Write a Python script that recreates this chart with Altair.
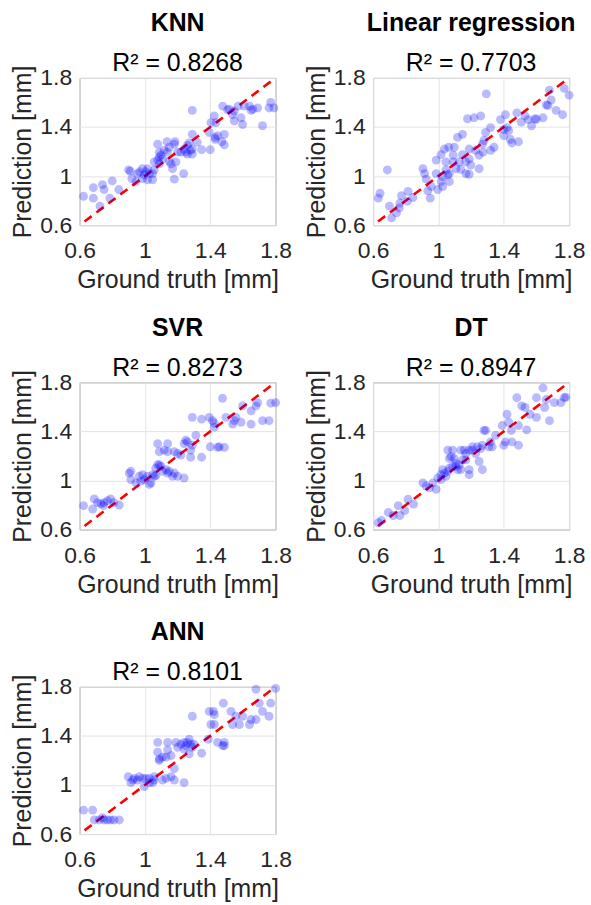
import altair as alt
import pandas as pd

FONT = "Liberation Sans"

models = ["KNN", "Linear regression", "SVR", "DT", "ANN"]
r2_values = [0.8268, 0.7703, 0.8273, 0.8947, 0.8101]
axis_ticks = [0.6, 1.0, 1.4, 1.8]
line_ends = [0.63, 1.8]

knn_gt = [0.624, 0.684, 0.684, 0.740, 0.750, 0.725, 0.785, 0.800, 0.840, 0.900,
          0.910, 0.945, 0.985, 1.005, 1.016, 1.047, 0.996, 1.027, 1.057, 1.078,
          1.088, 1.098, 1.108, 1.078, 1.088, 1.135, 1.184, 1.149, 1.169, 1.180,
          1.237, 1.190, 1.200, 1.240, 1.260, 1.278, 1.290, 1.250, 1.290, 1.290,
          1.347, 1.400, 1.320, 1.394, 1.404, 1.424, 1.435, 1.445, 1.430, 1.486,
          1.486, 1.476, 1.516, 1.537, 1.547, 1.588, 1.598, 1.640, 1.660, 1.690,
          1.720, 1.760, 1.770, 1.790, 1.608, 1.547, 1.057, 0.967, 1.016, 1.118,
          1.160, 1.220, 1.137, 1.047, 0.920, 0.985, 0.955, 1.270, 1.088, 1.149,
          1.180, 1.260, 1.290, 1.430, 1.570, 1.650, 1.506, 1.470]
knn_pred = [0.835, 0.905, 0.820, 0.930, 0.890, 0.755, 0.820, 0.960, 0.890, 1.050,
            1.040, 0.955, 1.060, 1.035, 0.970, 0.970, 1.010, 1.020, 1.050, 1.130,
            1.155, 1.170, 1.140, 1.260, 1.195, 1.280, 1.280, 1.120, 1.060, 0.975,
            1.020, 1.115, 1.195, 1.220, 1.250, 1.210, 1.220, 1.195, 1.340, 1.535,
            1.215, 1.215, 1.275, 1.355, 1.435, 1.490, 1.435, 1.330, 1.300, 1.340,
            1.255, 1.570, 1.545, 1.500, 1.450, 1.475, 1.420, 1.570, 1.545, 1.555,
            1.410, 1.555, 1.600, 1.555, 1.570, 1.530, 1.115, 1.035, 1.060, 1.210,
            1.100, 1.195, 1.195, 1.020, 0.980, 0.980, 1.020, 1.270, 1.100, 1.235,
            1.260, 1.180, 1.180, 1.315, 1.570, 1.535, 1.540, 1.280]

lr_gt = [0.642, 0.632, 0.687, 0.700, 0.713, 0.743, 0.760, 0.764, 0.774, 0.810,
         0.814, 0.844, 0.905, 0.915, 0.925, 0.935, 0.950, 0.956, 0.986, 0.996,
         1.016, 1.026, 1.046, 1.057, 1.067, 0.986, 1.016, 1.063, 1.097, 1.090,
         1.090, 1.117, 1.147, 1.107, 1.137, 1.168, 1.188, 1.188, 1.188, 1.178,
         1.218, 1.259, 1.228, 1.249, 1.269, 1.273, 1.279, 1.289, 1.319, 1.293,
         1.249, 1.340, 1.320, 1.380, 1.410, 1.400, 1.430, 1.400, 1.440, 1.450,
         1.490, 1.480, 1.507, 1.530, 1.550, 1.570, 1.590, 1.600, 1.640, 1.660,
         1.680, 1.690, 1.670, 1.720, 1.760, 1.770, 1.800, 1.026, 1.067, 1.046,
         1.127, 1.198, 1.147, 1.168, 1.420, 1.036]
lr_pred = [0.860, 0.820, 1.050, 0.755, 0.660, 0.700, 0.740, 0.780, 0.840, 0.795,
           0.875, 0.825, 1.060, 1.020, 0.975, 0.880, 0.820, 0.915, 1.020, 0.890,
           0.955, 0.995, 1.050, 1.010, 1.020, 1.130, 1.175, 1.235, 1.235, 1.170,
           1.115, 1.315, 1.340, 1.060, 1.055, 1.115, 1.140, 1.015, 1.220, 1.467,
           1.475, 1.490, 1.210, 1.170, 1.260, 1.195, 1.290, 1.355, 1.395, 1.670,
           1.060, 1.235, 1.210, 1.460, 1.500, 1.380, 1.370, 1.330, 1.300, 1.270,
           1.280, 1.515, 1.440, 1.490, 1.460, 1.410, 1.465, 1.465, 1.475, 1.580,
           1.700, 1.620, 1.575, 1.535, 1.500, 1.715, 1.660, 0.915, 0.955, 1.115,
           1.115, 1.090, 1.175, 1.020, 1.395, 1.220]

svr_gt = [0.624, 0.680, 0.690, 0.730, 0.750, 0.770, 0.790, 0.810, 0.843, 0.747,
          0.904, 0.914, 0.945, 0.965, 0.986, 0.996, 1.016, 1.027, 1.047, 1.067,
          1.078, 1.088, 1.108, 1.129, 1.149, 1.180, 1.169, 1.240, 1.078, 1.088,
          1.118, 1.139, 1.139, 1.180, 1.200, 1.220, 1.240, 1.250, 1.260, 1.280,
          1.290, 1.312, 1.290, 1.280, 1.347, 1.400, 1.445, 1.486, 1.455, 1.394,
          1.414, 1.425, 1.425, 1.475, 1.496, 1.537, 1.557, 1.588, 1.598, 1.650,
          1.650, 1.680, 1.690, 1.720, 1.760, 1.770, 1.800, 0.914, 0.975, 1.037,
          1.057, 1.139, 1.200, 1.347, 1.547, 0.710, 1.098, 1.067]
svr_pred = [0.795, 0.768, 0.850, 0.810, 0.820, 0.835, 0.850, 0.820, 0.800, 0.795,
            1.060, 1.075, 0.980, 1.035, 1.048, 1.008, 1.035, 0.968, 1.048, 1.040,
            1.128, 1.128, 1.075, 1.088, 1.075, 1.061, 1.035, 1.020, 1.300, 1.235,
            1.248, 1.300, 1.235, 1.235, 1.220, 1.208, 1.300, 1.328, 1.315, 1.248,
            1.288, 1.368, 1.515, 1.190, 1.190, 1.275, 1.270, 1.270, 1.275, 1.515,
            1.488, 1.467, 1.435, 1.670, 1.515, 1.460, 1.515, 1.475, 1.608, 1.460,
            1.568, 1.608, 1.635, 1.488, 1.488, 1.630, 1.635, 1.008, 0.995, 0.980,
            1.035, 1.061, 1.035, 1.500, 1.488, 0.820, 1.115, 1.100]

dt_gt = [0.632, 0.652, 0.693, 0.723, 0.754, 0.764, 0.794, 0.814, 0.848, 0.905,
         0.925, 0.945, 0.986, 0.996, 1.016, 1.036, 1.057, 1.067, 1.087, 1.107,
         1.127, 1.057, 1.087, 1.067, 1.097, 1.137, 1.158, 1.188, 1.208, 1.168,
         1.188, 1.188, 1.228, 1.238, 1.259, 1.269, 1.249, 1.269, 1.279, 1.289,
         1.309, 1.329, 1.350, 1.390, 1.400, 1.410, 1.420, 1.430, 1.450, 1.446,
         1.490, 1.490, 1.480, 1.510, 1.530, 1.540, 1.560, 1.600, 1.600, 1.640,
         1.660, 1.650, 1.680, 1.710, 1.750, 1.770, 1.780, 1.026, 1.117, 1.137,
         1.016, 1.046, 1.168, 1.208, 0.966, 1.319, 1.107, 1.077, 1.148]
dt_pred = [0.656, 0.675, 0.740, 0.715, 0.795, 0.715, 0.755, 0.848, 0.808, 0.980,
           0.955, 0.940, 0.928, 1.020, 1.048, 1.060, 1.075, 1.100, 1.115, 1.115,
           1.128, 1.248, 1.248, 1.180, 1.180, 1.248, 1.248, 1.248, 1.248, 1.168,
           1.088, 1.048, 1.220, 1.275, 1.260, 1.288, 1.155, 1.088, 1.408, 1.408,
           1.275, 1.275, 1.368, 1.448, 1.288, 1.315, 1.540, 1.475, 1.315, 1.408,
           1.288, 1.448, 1.675, 1.608, 1.595, 1.413, 1.540, 1.515, 1.675, 1.755,
           1.660, 1.595, 1.488, 1.635, 1.635, 1.675, 1.680, 1.088, 1.088, 1.088,
           1.008, 1.035, 1.220, 1.275, 0.980, 1.315, 1.140, 1.195, 1.168]

ann_gt = [0.624, 0.680, 0.690, 0.720, 0.750, 0.770, 0.790, 0.810, 0.843, 0.740,
          0.898, 0.914, 0.935, 0.965, 0.996, 1.006, 1.027, 1.047, 1.057, 1.108,
          1.160, 1.180, 1.240, 1.180, 1.078, 1.078, 1.088, 1.108, 1.129, 1.160,
          1.139, 1.190, 1.200, 1.220, 1.240, 1.260, 1.271, 1.280, 1.290, 1.271,
          1.290, 1.347, 1.388, 1.394, 1.420, 1.404, 1.425, 1.445, 1.486, 1.476,
          1.480, 1.527, 1.537, 1.578, 1.557, 1.598, 1.640, 1.650, 1.680, 1.680,
          1.720, 1.760, 1.770, 1.800, 1.700, 1.057, 1.027, 0.955, 0.986, 1.300,
          1.240, 1.250, 1.088, 1.139, 1.425, 0.925, 1.129, 1.486]
ann_pred = [0.795, 0.795, 0.715, 0.715, 0.715, 0.715, 0.715, 0.715, 0.715, 0.733,
            1.067, 1.019, 1.053, 1.067, 0.987, 1.053, 1.053, 1.019, 1.067, 1.040,
            1.067, 1.040, 1.019, 1.133, 1.267, 1.347, 1.200, 1.227, 1.227, 1.240,
            1.347, 1.347, 1.307, 1.333, 1.347, 1.347, 1.373, 1.333, 1.307, 1.253,
            1.560, 1.259, 1.373, 1.600, 1.600, 1.493, 1.493, 1.347, 1.347, 1.320,
            1.667, 1.600, 1.493, 1.493, 1.560, 1.560, 1.493, 1.533, 1.533, 1.780,
            1.600, 1.560, 1.667, 1.787, 1.667, 1.040, 1.019, 1.040, 1.053, 1.333,
            1.293, 1.320, 1.213, 1.285, 1.573, 1.040, 1.053, 1.320]

gt_sets = [knn_gt, lr_gt, svr_gt, dt_gt, ann_gt]
pred_sets = [knn_pred, lr_pred, svr_pred, dt_pred, ann_pred]


def panel(name, r2, gt, pred):
    pts = pd.DataFrame({"gt": gt, "pred": pred})
    ref = pd.DataFrame({"gt": line_ends, "pred": line_ends})
    sx = alt.Scale(domain=[0.6, 1.8], nice=False, zero=False)
    sy = alt.Scale(domain=[0.6, 1.8], nice=False, zero=False)
    ax = alt.Axis(values=axis_ticks, format="~g", title="Ground truth [mm]",
                  ticks=False, tickSize=0, labelPadding=15, labelFlush=False,
                  labelOverlap=False, titleY=63, titleBaseline="alphabetic")
    ay = alt.Axis(values=axis_ticks, format="~g", title="Prediction [mm]",
                  ticks=False, tickSize=0, labelPadding=8, labelFlush=False,
                  labelOverlap=False, titleX=-49, titleBaseline="alphabetic",
                  titleAngle=270)
    line = alt.Chart(ref).mark_line(color="#ff0000", strokeWidth=2.6,
                                    strokeDash=[9, 6], clip=True).encode(
        x=alt.X("gt:Q", scale=sx, axis=ax),
        y=alt.Y("pred:Q", scale=sy, axis=ay),
    )
    dots = alt.Chart(pts).mark_circle(color="#0000ff", opacity=0.27, size=80).encode(
        x=alt.X("gt:Q", scale=sx, axis=ax),
        y=alt.Y("pred:Q", scale=sy, axis=ay),
    )
    return alt.layer(line, dots).properties(
        width=197, height=148,
        title=alt.TitleParams(
            text=name, subtitle=f"R\u00b2 = {r2:.4f}",
            font=FONT, fontSize=25, fontWeight="bold", color="black",
            subtitleFont=FONT, subtitleFontSize=25, subtitleFontWeight="normal",
            subtitleColor="black", anchor="middle", frame="group",
            offset=-11, subtitlePadding=15,
        ),
    )


panels = [panel(m, r, g, p) for m, r, g, p in zip(models, r2_values, gt_sets, pred_sets)]

chart = alt.concat(*panels, columns=2, spacing={"row": 158, "column": 98},
                   bounds="flush").properties(
    background="white", padding={"left": 10, "top": 8, "right": 5, "bottom": 0}
).configure_view(
    stroke="#8c8c8c", strokeWidth=1
).configure_axis(
    domain=False, grid=True, gridColor="#e3e3e3", gridWidth=1,
    labelFont=FONT, labelFontSize=23, labelColor="#262626",
    titleFont=FONT, titleFontSize=25, titleColor="#262626", titleFontWeight="normal",
)

chart.save("out.html", embed_options={"renderer": "svg", "actions": False})
